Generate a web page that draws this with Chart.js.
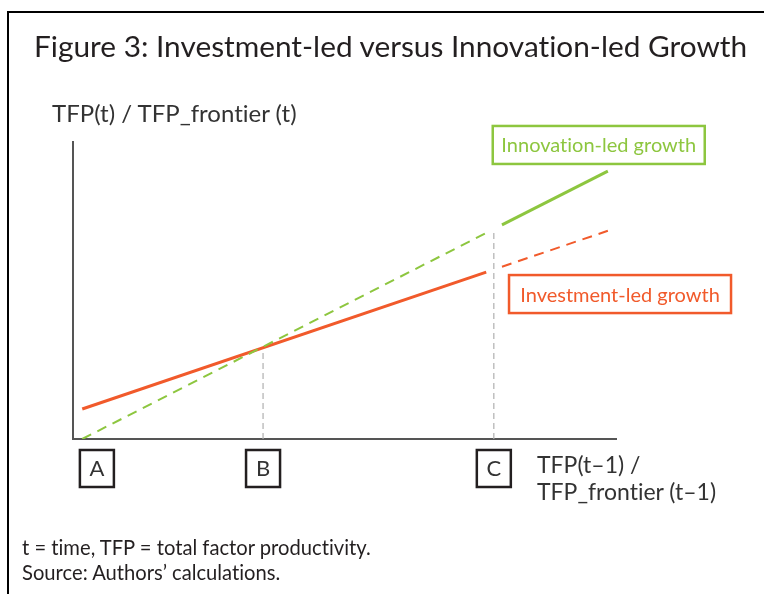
<!DOCTYPE html>
<html lang="en">
<head>
    <meta charset="UTF-8">
    <title>Figure 3: Investment-led versus Innovation-led Growth</title>
    <script src="https://cdn.jsdelivr.net/npm/chart.js"></script>
    <style>
        body {
            margin: 0;
            padding: 0;
            background: #fff;
            font-family: Lato, "Open Sans", sans-serif;
            color: #231f20;
            font-variant-ligatures: none;
        }

        /* whole figure, fixed at window size */
        .figure {
            position: relative;
            width: 764px;
            height: 594px;
            overflow: hidden;
        }

        /* black frame: top and left sides only */
        .frame {
            position: absolute;
            left: 7px;
            top: 11px;
            width: 800px;
            height: 600px;
            border-top: 2px solid #000;
            border-left: 2px solid #000;
        }

        canvas {
            position: absolute;
            left: 0;
            top: 0;
        }

        .txt {
            position: absolute;
            line-height: 1;
            white-space: nowrap;
        }

        .title { left: 34px; top: 31px; font-size: 29.8px; }
        .ytitle { left: 52px; top: 101px; font-size: 24px; color: #333; }
        .xtitle { left: 537px; top: 451px; font-size: 23px; color: #333; line-height: 27px; }
        .note { left: 22px; top: 535px; font-size: 20.2px; line-height: 25px; }
    </style>
</head>
<body>
    <div class="figure">
        <div class="frame"></div>
        <canvas id="growthChart" width="764" height="594"></canvas>
        <div class="txt title">Figure 3: Investment-led versus Innovation-led Growth</div>
        <div class="txt ytitle">TFP(t) / TFP_frontier (t)</div>
        <div class="txt xtitle">TFP(t–1) /<br>TFP_frontier (t–1)</div>
        <div class="txt note">t = time, TFP = total factor productivity.<br>Source: Authors’ calculations.</div>
    </div>

    <script>
        // points on the x axis
        const markers = ['A', 'B', 'C'];
        const markerX = [4.4, 35.0, 77.5];

        // investment-led growth (solid part, then dashed extension)
        const investX = [1.7, 76.1];
        const investY = [10.1, 56.2];
        const investExtX = [79.0, 98.5];
        const investExtY = [58.0, 70.1];

        // innovation-led growth (dashed part, then solid extension)
        const innovX = [1.7, 76.1];
        const innovY = [0, 69.4];
        const innovExtX = [79.0, 98.5];
        const innovExtY = [72.1, 90.2];

        // vertical guides at B and C
        const guideX = [35.0, 77.5];
        const guideTop = [29.3, 70.4];

        const GREEN = '#8dc63f';
        const RED = '#f15a2b';

        function pts(xs, ys) {
            return xs.map((x, i) => ({ x: x, y: ys[i] }));
        }

        const datasets = [];
        // guide lines first so they sit behind the curves
        guideX.forEach((gx, i) => {
            datasets.push({
                data: pts([gx, gx], [0, guideTop[i]]),
                borderColor: '#b0b0b0',
                borderWidth: 1.2,
                borderDash: [6, 4]
            });
        });
        datasets.push({ data: pts(innovX, innovY), borderColor: GREEN, borderWidth: 2, borderDash: [10, 7] });
        datasets.push({ data: pts(investX, investY), borderColor: RED, borderWidth: 3 });
        datasets.push({ data: pts(investExtX, investExtY), borderColor: RED, borderWidth: 2, borderDash: [10, 7] });
        datasets.push({ data: pts(innovExtX, innovExtY), borderColor: GREEN, borderWidth: 3 });

        // boxes with A, B, C under the axis and the two series labels
        const boxesPlugin = {
            id: 'boxes',
            afterDraw(chart) {
                const ctx = chart.ctx;
                const xs = chart.scales.x;
                const ys = chart.scales.y;
                ctx.save();
                ctx.textAlign = 'center';
                ctx.textBaseline = 'middle';

                // marker boxes
                ctx.font = '22px Lato, sans-serif';
                markers.forEach((m, i) => {
                    const cx = xs.getPixelForValue(markerX[i]);
                    ctx.lineWidth = 2.5;
                    ctx.strokeStyle = '#231f20';
                    ctx.strokeRect(cx - 17, 450, 34, 37);
                    ctx.fillStyle = '#333';
                    ctx.fillText(m, cx, 469);
                });

                // series labels
                const labels = [
                    { text: 'Innovation-led growth', color: GREEN, x: 77.3, y: 105.4, w: 212 },
                    { text: 'Investment-led growth', color: RED, x: 80.3, y: 55.2, w: 222 }
                ];
                ctx.font = '20px Lato, sans-serif';
                labels.forEach(l => {
                    const left = xs.getPixelForValue(l.x);
                    const top = ys.getPixelForValue(l.y);
                    ctx.lineWidth = 2.5;
                    ctx.strokeStyle = l.color;
                    ctx.strokeRect(left, top, l.w, 38);
                    ctx.fillStyle = l.color;
                    ctx.fillText(l.text, left + l.w / 2, top + 20);
                });
                ctx.restore();
            }
        };

        const axisOpts = {
            type: 'linear',
            min: 0,
            max: 100,
            grid: { display: false, drawTicks: false },
            ticks: { display: false },
            border: { display: true, color: '#555', width: 2 }
        };

        new Chart(document.getElementById('growthChart'), {
            type: 'line',
            data: { datasets: datasets },
            options: {
                responsive: false,
                animation: false,
                layout: { padding: { left: 73, top: 142, right: 148, bottom: 155 } },
                elements: { point: { radius: 0 }, line: { tension: 0, borderCapStyle: 'butt' } },
                scales: { x: axisOpts, y: axisOpts },
                plugins: { legend: { display: false }, tooltip: { enabled: false } }
            },
            plugins: [boxesPlugin]
        });
    </script>
</body>
</html>
